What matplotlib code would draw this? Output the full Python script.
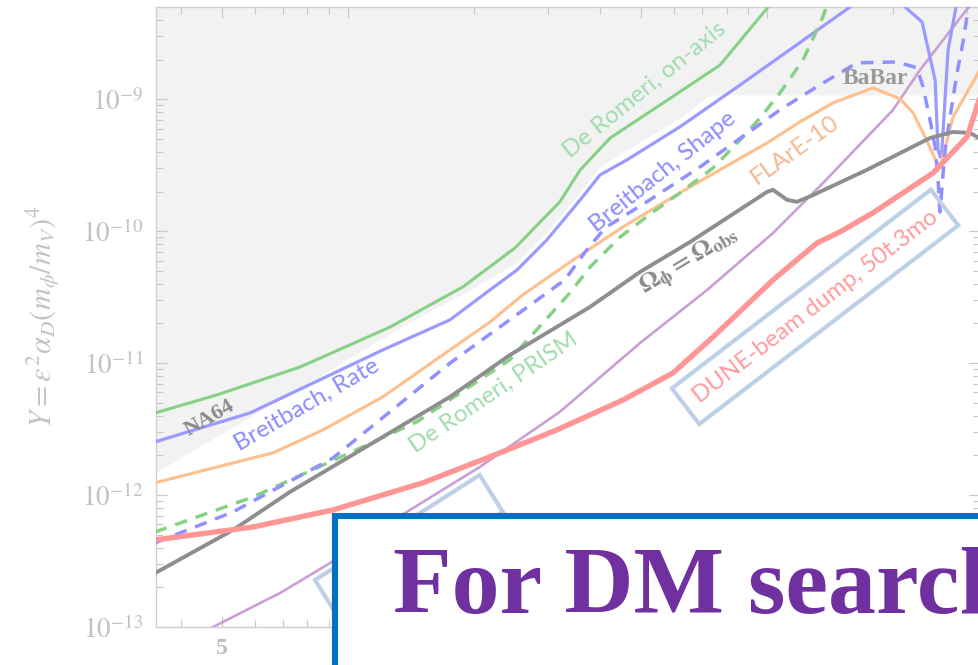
import matplotlib
matplotlib.use("Agg")
import matplotlib.pyplot as plt
from matplotlib.patches import Rectangle, Polygon
from matplotlib.ticker import FixedLocator, FixedFormatter, NullFormatter

# ---------------- data (m_phi in MeV, Y) ----------------
excl_m = [3.46, 14.6, 19.5, 25.3, 29.8, 35.8, 39.9, 46.3, 61.9, 71.9, 74.3, 330]
excl_Y = [1.47e-12, 2.2e-11, 3.59e-11, 5.85e-11, 9.89e-11, 1.99e-10, 3.08e-10,
          4.13e-10, 7.23e-10, 1.04e-9, 1.08e-9, 1.08e-9]

onaxis_m = [3.46, 4.86, 7.68, 12.6, 18.8, 25.0, 32.0, 35.8, 42.2, 61.9, 77.2, 100.5, 113.4]
onaxis_Y = [4.19e-12, 5.74e-12, 9.35e-12, 1.88e-11, 3.79e-11, 7.46e-11, 1.67e-10,
            2.92e-10, 5.09e-10, 1.14e-9, 1.82e-9, 5.01e-9, 8.0e-9]

breit_m = [3.46, 5.83, 12.1, 17.5, 21.8, 25.3, 29.8, 35.8, 39.9, 46.3, 61.9, 86.2, 157.7,
           185.9, 213.3, 234.2, 251.6, 255.7, 258.5, 261.2, 270.2, 282.3, 291.9]
breit_Y = [2.53e-12, 4.19e-12, 1.26e-11, 2.13e-11, 3.59e-11, 5.09e-11, 8.59e-11, 1.73e-10,
           2.67e-10, 3.48e-10, 6.18e-10, 1.285e-9, 5.01e-9, 9.6e-9, 5.01e-9, 3.86e-9,
           1.40e-9, 4.13e-10, 3.66e-10, 4.13e-10, 2.37e-9, 5.01e-9, 9.6e-9]

breit_dash_m = [3.46, 5.31, 9.20, 17.5, 24.3, 32.9, 36.8, 41.0, 52.5, 69.2, 88.5, 107.3,
                135.9, 163.9, 204.2, 227.9, 235.5, 244.7, 251.6, 255.7, 258.5, 262.0,
                265.8, 273.2, 283.8, 293.1, 301.4, 308.3]
breit_dash_Y = [4.34e-13, 7.45e-13, 1.91e-12, 1.00e-11, 2.13e-11, 4.28e-11, 6.97e-11,
                1.06e-10, 1.73e-10, 3.08e-10, 5.37e-10, 8.32e-10, 1.33e-9, 1.89e-9,
                1.92e-9, 1.73e-9, 1.24e-9, 6.98e-10, 4.36e-10, 2.45e-10, 1.40e-10,
                2.4e-10, 4.13e-10, 7.37e-10, 1.58e-9, 2.68e-9, 4.76e-9, 8.0e-9]

prism_m = [3.46, 5.93, 10.1, 14.6, 24.3, 27.2, 33.8, 37.8, 44.6, 53.4, 61.9, 74.3, 86.2,
           96.2, 107.3, 121.8, 135.9, 141.3]
prism_Y = [5.25e-13, 9.68e-13, 2.09e-12, 3.6e-12, 1.06e-11, 1.58e-11, 3.40e-11, 5.36e-11,
           9.06e-11, 1.40e-10, 1.95e-10, 3.02e-10, 4.92e-10, 7.23e-10, 1.12e-9, 1.99e-9,
           4.22e-9, 6.2e-9]

flare_m = [3.46, 6.62, 8.71, 12.1, 17.5, 21.8, 26.1, 34.4, 45.3, 65.5, 100, 119.8, 143.6,
           178.9, 207.5, 222.9, 235.5, 254.3, 258.5, 277.7, 316.9, 340]
flare_Y = [1.24e-12, 2.09e-12, 3.12e-12, 5.55e-12, 1.26e-11, 2.05e-11, 3.29e-11, 6.05e-11,
           1.08e-10, 2.17e-10, 4.68e-10, 6.75e-10, 9.40e-10, 1.22e-9, 1.007e-9, 7.89e-10,
           5.56e-10, 3.30e-10, 3.02e-10, 7.37e-10, 1.53e-9, 2.58e-9]

relic_m = [3.46, 5.31, 7.26, 12.1, 17.5, 24.3, 37.8, 49.7, 65.5, 100, 103.3, 111.5, 117.8,
           128.7, 173.0, 244.7, 277.7, 304.8, 320.4, 340]
relic_Y = [2.56e-13, 5.43e-13, 1.055e-12, 2.76e-12, 5.55e-12, 1.15e-11, 2.67e-11, 4.91e-11,
           8.3e-11, 1.99e-10, 2.06e-10, 1.73e-10, 1.67e-10, 1.88e-10, 2.92e-10, 5.09e-10,
           5.66e-10, 5.56e-10, 5.09e-10, 4.51e-10]

dune_m = [3.46, 5.93, 9.20, 15.1, 21.8, 31.5, 45.3, 59.6, 74.3, 103.3, 131.5, 149.3,
          178.9, 248.9, 299.9, 320.4, 331]
dune_Y = [4.57e-13, 5.73e-13, 7.71e-13, 1.24e-12, 1.95e-12, 3.12e-12, 5.26e-12, 8.43e-12,
          1.58e-11, 4.28e-11, 8.15e-11, 9.89e-11, 1.38e-10, 2.77e-10, 5.19e-10, 9.88e-10, 1.40e-9]

purple_m = [4.43, 4.76, 6.88, 9.05, 13.8, 20.6, 32.0, 49.7, 71.9, 103.3, 135.9, 199.7,
            231.6, 301.4, 322]
purple_Y = [8.85e-14, 1e-13, 1.81e-13, 3.05e-13, 7.45e-13, 1.63e-12, 4.27e-12, 1.42e-11,
            3.59e-11, 9.7e-11, 2.32e-10, 8.32e-10, 1.67e-9, 4.93e-9, 6.41e-9]

ytick_vals = [1e-13, 1e-12, 1e-11, 1e-10, 1e-9]
ytick_labels = [r'$10^{-13}$', r'$10^{-12}$', r'$10^{-11}$', r'$10^{-10}$', r'$10^{-9}$']
xtick_vals = [5, 10, 50, 100]
xtick_labels = ['5', '10', '50', '100']

# ---------------- figure ----------------
plt.rcParams['mathtext.fontset'] = 'stix'
W, H = 979, 665
fig = plt.figure(figsize=(W / 100, H / 100), dpi=100)
ax = fig.add_axes([156 / W, 1 - 627 / H, (980 - 156) / W, (627 - 7) / H])
ax.set_xscale('log')
ax.set_yscale('log')
ax.set_xlim(3.48, 322)
ax.set_ylim(1e-13, 5.01e-9)

ax.fill_between(excl_m, excl_Y, 1e-7, color='#f2f2f2', lw=0, zorder=0)

ax.plot(purple_m, purple_Y, color='#c9a0d6', lw=1.9, zorder=2)
ax.plot(onaxis_m, onaxis_Y, color='#86d186', lw=2.2, zorder=3)
ax.plot(breit_m, breit_Y, color='#9a9aff', lw=2.3, zorder=3)
ax.plot(flare_m, flare_Y, color='#ffbf8c', lw=2.2, zorder=3)
ax.plot(prism_m, prism_Y, color='#86d186', lw=2.5, dashes=(3.6, 2.6), zorder=3)
ax.plot(breit_dash_m, breit_dash_Y, color='#9090ff', lw=2.5, dashes=(3.6, 2.6), zorder=3)
ax.plot(relic_m, relic_Y, color='#8e8e8e', lw=2.8, zorder=4)
ax.plot(dune_m, dune_Y, color='#ff9696', lw=3.9, zorder=4)

# axes styling
for s in ax.spines.values():
    s.set_color('#cfcfcf')
    s.set_linewidth(1.0)
ax.tick_params(which='both', direction='in', top=True, right=True, color='#c8c8c8')
ax.tick_params(which='major', length=8, width=0.9)
ax.tick_params(which='minor', length=5, width=0.8)
ax.yaxis.set_major_locator(FixedLocator(ytick_vals))
ax.yaxis.set_major_formatter(FixedFormatter(ytick_labels))
ax.yaxis.set_minor_formatter(NullFormatter())
ax.xaxis.set_major_locator(FixedLocator(xtick_vals))
ax.xaxis.set_major_formatter(FixedFormatter(xtick_labels))
ax.xaxis.set_minor_formatter(NullFormatter())
for lab in ax.get_yticklabels():
    lab.set_fontsize(19.5)
    lab.set_color('#c2c2c2')
for lab in ax.get_xticklabels():
    lab.set_fontsize(17)
    lab.set_color('#bdbdbd')
    lab.set_fontfamily('Liberation Serif')
    lab.set_fontweight('bold')
ax.tick_params(axis='y', pad=9)
ax.tick_params(axis='x', pad=8)

# curve labels
lab_kw = dict(ha='center', va='center', rotation_mode='anchor', family='Lato', zorder=6)
ax.text(51.1, 1.18e-9, 'De Romeri, on-axis', rotation=39, fontsize=17.5, color='#a0dcae', **lab_kw)
ax.text(56.4, 2.82e-10, 'Breitbach, Shape', rotation=38.5, fontsize=17.5, color='#8c8cff', **lab_kw)
ax.text(116.5, 4.13e-10, 'FLArE-10', rotation=35.5, fontsize=17.5, color='#f6b890', **lab_kw)
ax.text(7.98, 4.82e-12, 'Breitbach, Rate', rotation=30, fontsize=17.5, color='#8c8cff', **lab_kw)
ax.text(22.3, 5.94e-12, 'De Romeri, PRISM', rotation=34, fontsize=17.5, color='#a0dcae', **lab_kw)
ax.text(130.1, 2.67e-11, 'DUNE-beam dump, 50t.3mo', rotation=37.5, fontsize=17.3,
        color='#ff9c9c',
        bbox=dict(boxstyle='square,pad=0.5', fc='none', ec='#bdd0e7', lw=3.0), **lab_kw)
ax.text(65.5, 5.85e-11, r'$\mathbf{\Omega_\phi = \Omega_{obs}}$', rotation=31, fontsize=19,
        color='#8a8a8a', ha='center', va='center', rotation_mode='anchor', zorder=6)
ax.text(180.9, 1.45e-9, 'BaBar', fontsize=17, color='#999999', family='Liberation Serif',
        weight='bold', ha='center', va='center', zorder=6)
ax.text(4.68, 3.84e-12, 'NA64', rotation=30, fontsize=16, color='#8a8a8a',
        family='Liberation Serif', weight='bold', ha='center', va='center',
        rotation_mode='anchor', zorder=6)

# partially hidden label frame
ax.add_patch(Polygon([(8.34, 2.27e-13), (20.6, 1.42e-12), (23.4, 7.45e-13), (9.46, 1.19e-13)],
                     closed=True, fill=False, ec='#bdd0e7', lw=3.0, zorder=5))

# y label
fig.text(43 / W, 1 - 317 / H, r'$Y = \epsilon^2\alpha_D(m_\phi/m_V)^4$', rotation=90,
         fontsize=22, color='#c4c4c4', ha='center', va='center')

# overlay slide box
fig.add_artist(Rectangle((335.5 / W, -0.2), 1.0, 0.2 + (1 - 516 / H), transform=fig.transFigure,
                         fc='white', ec='#0070c0', lw=4.4, zorder=20, clip_on=False))
fig.text(393 / W, 1 - 613 / H, 'For DM search', fontsize=69, color='#7030a0',
         family='Liberation Serif', weight='bold', ha='left', va='baseline', zorder=21)

fig.savefig('out.png', dpi=100)
